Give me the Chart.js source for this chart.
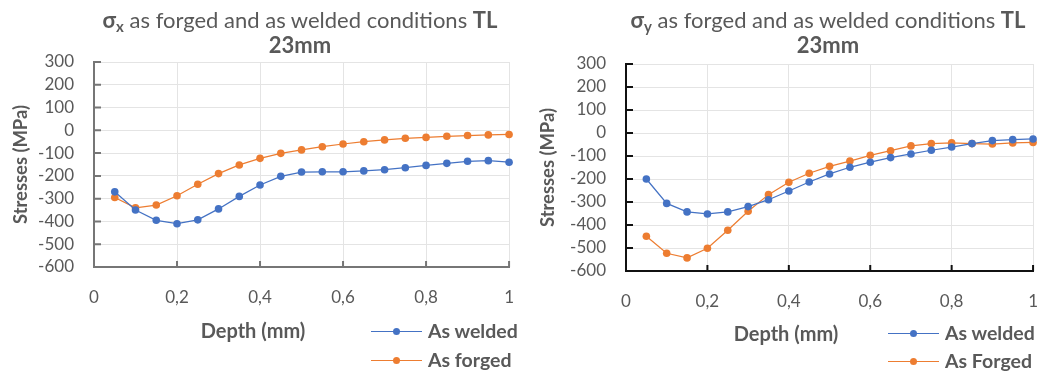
<!DOCTYPE html>
<html>
<head>
<meta charset="utf-8">
<script src="https://cdn.jsdelivr.net/npm/chart.js@4.4.1/dist/chart.umd.min.js"></script>
<style>
  body { margin: 0; background: #fff; font-family: Lato, sans-serif; color: #595959; overflow: hidden; width: 1047px; height: 373px; }
  .panel { position: absolute; top: 0; height: 373px; }
  .panel canvas { position: absolute; left: 0; top: 0; }
  .title { position: absolute; top: 7px; font-size: 22px; line-height: 25px; text-align: center; white-space: nowrap; transform: translateX(-50%); }
  .title sub { font-size: 0.68em; vertical-align: -0.25em; line-height: 0; }
  .xtitle { position: absolute; font-weight: bold; font-size: 20px; line-height: 24px; white-space: nowrap; transform: translate(-50%, -50%); }
  .item { position: absolute; height: 0; white-space: nowrap; font-weight: bold; font-size: 19.5px; }
  .item .ln { position: absolute; left: 0; top: -0.5px; width: 51px; height: 1px; }
  .item .dot { position: absolute; left: 22px; top: -3.5px; width: 7px; height: 7px; border-radius: 50%; }
  .item .txt { position: absolute; left: 57px; top: -12px; line-height: 24px; }
</style>
</head>
<body>
<div class="panel" id="pLeft" style="left:0;width:520px">
  <canvas id="cLeft" width="534" height="373"></canvas>
  <div class="title" style="left:300px"><b>σ<sub>x</sub></b> as forged and as welded conditions <b>TL</b><br><b>23mm</b></div>
  <div class="xtitle" style="left:253px;top:330px">Depth (mm)</div>
  <div class="item" style="left:371px;top:331px"><span class="ln" style="background:#4472C4"></span><span class="dot" style="background:#4472C4"></span><span class="txt">As welded</span></div>
  <div class="item" style="left:371px;top:360px"><span class="ln" style="background:#ED7D31"></span><span class="dot" style="background:#ED7D31"></span><span class="txt">As forged</span></div>
</div>
<div class="panel" id="pRight" style="left:520px;width:527px">
  <canvas id="cRight" width="538" height="373"></canvas>
  <div class="title" style="left:308px"><b>σ<sub>y</sub></b> as forged and as welded conditions <b>TL</b><br><b>23mm</b></div>
  <div class="xtitle" style="left:266px;top:333px">Depth (mm)</div>
  <div class="item" style="left:368px;top:333px"><span class="ln" style="background:#4472C4"></span><span class="dot" style="background:#4472C4"></span><span class="txt">As welded</span></div>
  <div class="item" style="left:368px;top:361px"><span class="ln" style="background:#ED7D31"></span><span class="dot" style="background:#ED7D31"></span><span class="txt">As Forged</span></div>
</div>
<script>
// depth positions (mm)
const depth = [0.05, 0.10, 0.15, 0.20, 0.25, 0.30, 0.35, 0.40, 0.45, 0.50,
               0.55, 0.60, 0.65, 0.70, 0.75, 0.80, 0.85, 0.90, 0.95, 1.00];

// sigma x (MPa)
const sxWelded = [-270, -350, -395, -410, -393, -345, -290, -240, -202, -183,
                  -182, -182, -178, -173, -164, -154, -145, -136, -133, -140];
const sxForged = [-295, -340, -328, -287, -237, -190, -152, -123, -101, -86,
                  -72, -60, -50, -42, -35, -31, -26, -23, -20, -18];

// sigma y (MPa)
const syWelded = [-200, -306, -343, -352, -343, -320, -290, -252, -213, -178,
                  -149, -127, -107, -91, -75, -61, -46, -33, -29, -26];
const syForged = [-449, -523, -543, -501, -423, -340, -268, -214, -175, -145,
                  -122, -97, -77, -56, -46, -43, -46, -48, -43, -41];

const depthTicks = ["0", "0,2", "0,4", "0,6", "0,8", "1"];

const BLUE = "#4472C4";
const ORANGE = "#ED7D31";

Chart.defaults.font.family = "Lato, sans-serif";
Chart.defaults.color = "#595959";

// small tick marks drawn inside the plot, as in the source
const innerTicks = {
  id: "innerTicks",
  afterDraw(chart, args, opts) {
    const { ctx, chartArea, scales } = chart;
    ctx.save();
    ctx.strokeStyle = opts.color;
    ctx.lineWidth = 2;
    ctx.beginPath();
    scales.y.ticks.forEach((t) => {
      const py = scales.y.getPixelForValue(t.value);
      ctx.moveTo(chartArea.left, py);
      ctx.lineTo(chartArea.left + 7, py);
    });
    scales.x.ticks.forEach((t) => {
      const px = scales.x.getPixelForValue(t.value);
      ctx.moveTo(px, chartArea.bottom);
      ctx.lineTo(px, chartArea.bottom - 6);
    });
    ctx.stroke();
    ctx.restore();
  },
};

function series(label, values, color) {
  return {
    label,
    data: depth.map((d, i) => ({ x: d, y: values[i] })),
    borderColor: color,
    backgroundColor: color,
    borderWidth: 1.25,
    pointRadius: 3.8,
    pointHoverRadius: 3.8,
    pointBorderWidth: 0,
    tension: 0,
    clip: false,
  };
}

function makeChart(id, welded, forged, forgedLabel, box) {
  return new Chart(document.getElementById(id), {
    type: "line",
    data: {
      datasets: [
        series("As welded", welded, BLUE),
        series(forgedLabel, forged, ORANGE),
      ],
    },
    plugins: [innerTicks],
    options: {
      responsive: false,
      animation: false,
      layout: { padding: { top: box.top, left: 0, right: 0, bottom: box.bottom } },
      plugins: {
        legend: { display: false },
        tooltip: { enabled: false },
        innerTicks: { color: box.axis },
      },
      scales: {
        x: {
          type: "linear",
          min: 0,
          max: 1,
          ticks: {
            stepSize: 0.2,
            padding: 20,
            font: { size: 17 },
            callback: (v, i) => depthTicks[i],
          },
          grid: { color: "#e4e4e4", drawTicks: false },
          border: { color: box.axis, width: 2 },
          afterFit: (s) => { s.height = 44; },
        },
        y: {
          min: -600,
          max: 300,
          ticks: { stepSize: 100, padding: 20, autoSkip: false, font: { size: 17 } },
          grid: { color: "#e4e4e4", drawTicks: false },
          border: { color: box.axis, width: 2 },
          title: {
            display: true,
            text: "Stresses (MPa)",
            font: { size: 18.4, weight: "bold" },
            padding: { top: box.titlePad, bottom: 0 },
          },
          afterFit: (s) => { s.width = box.yWidth; },
        },
      },
    },
  });
}

makeChart("cLeft", sxWelded, sxForged, "As forged",
  { top: 62, bottom: 373 - 267 - 44, yWidth: 94, titlePad: 10, axis: "#767676" });
makeChart("cRight", syWelded, syForged, "As Forged",
  { top: 64, bottom: 373 - 271 - 44, yWidth: 106, titlePad: 17, axis: "#111111" });
</script>
</body>
</html>
